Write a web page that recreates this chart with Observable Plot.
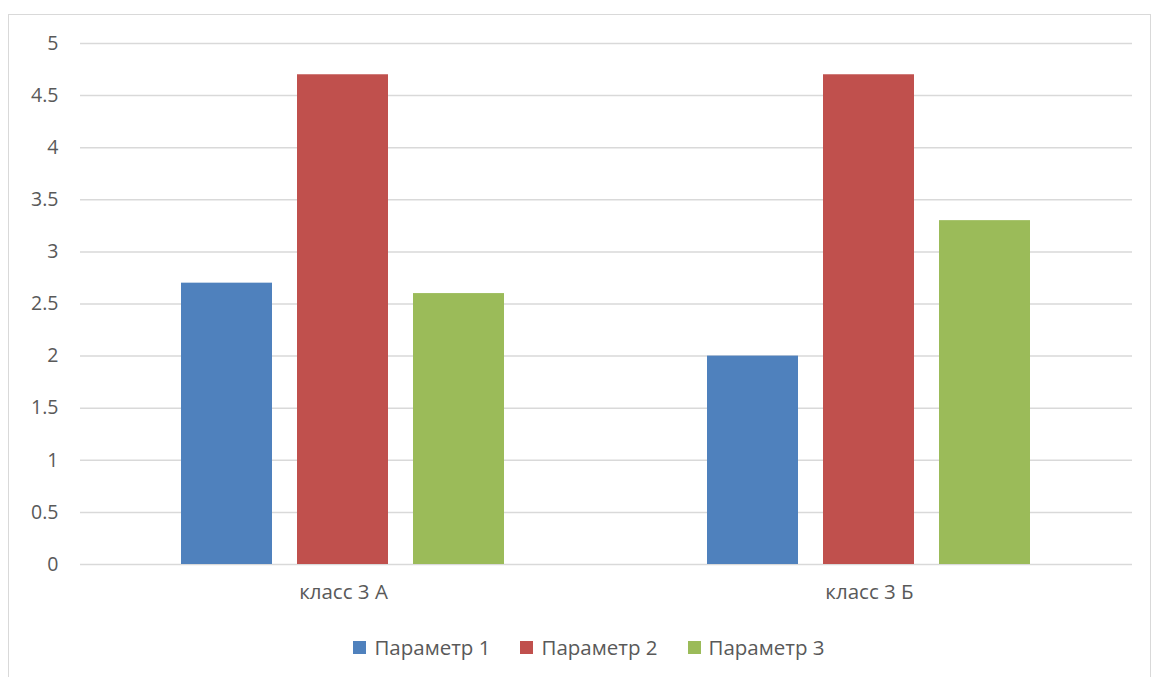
<!DOCTYPE html>
<html><head><meta charset="utf-8">
<script src="https://cdn.jsdelivr.net/npm/d3@7"></script>
<script src="https://cdn.jsdelivr.net/npm/@observablehq/plot@0.6"></script>
<style>
html,body{margin:0;padding:0;background:#fff;}
body{width:1151px;height:677px;position:relative;overflow:hidden;font-family:"Open Sans",sans-serif;}
#frame{position:absolute;left:8px;top:14px;width:1143px;height:670px;border:1.5px solid #d9d9d9;box-sizing:border-box;}
#chart{position:absolute;left:0;top:0;}
#legend{position:absolute;left:0;top:633px;width:1178px;display:flex;justify-content:center;align-items:center;font-size:20.5px;color:#595959;}
.item{display:flex;align-items:center;margin:0 15px;}
.sw{width:13px;height:13px;margin-right:8px;}
</style>
</head><body>
<div id="frame"></div>
<div id="chart"></div>
<div id="legend"></div>
<script>
const categories = ["класс 3 А", "класс 3 Б"];
const series = ["Параметр 1", "Параметр 2", "Параметр 3"];
const param1 = [2.7, 2.0];
const param2 = [4.7, 4.7];
const param3 = [2.6, 3.3];
const colors = ["#4f81bd", "#c0504d", "#9bbb59"];
const yTicks = [0, 0.5, 1, 1.5, 2, 2.5, 3, 3.5, 4, 4.5, 5];
const yTickLabels = ["0", "0.5", "1", "1.5", "2", "2.5", "3", "3.5", "4", "4.5", "5"];

const seriesValues = [param1, param2, param3];
const data = categories.flatMap((c, i) => seriesValues.map((arr, j) => ({category: c, series: series[j], value: arr[i]})));

const chart = Plot.plot({
  width: 1151,
  height: 610,
  marginLeft: 79,
  marginRight: 19,
  marginTop: 43,
  marginBottom: 46,
  style: {fontFamily: "'Open Sans', sans-serif", fontSize: "19px", color: "#595959", background: "transparent"},
  fx: {domain: categories, padding: 0, label: null},
  x: {domain: series, paddingInner: 0.2137, paddingOuter: 0.857, axis: null},
  y: {domain: [0, 5], label: null},
  color: {domain: series, range: colors},
  marks: [
    Plot.gridY(yTicks, {stroke: "#d9d9d9", strokeOpacity: 1, strokeWidth: 1.5}),
    Plot.barY(data, {fx: "category", x: "series", y: "value", fill: "series"}),
    Plot.axisY(yTicks, {tickSize: 0, tickPadding: 22, tickFormat: (d, i) => yTickLabels[i], label: null, fontSize: 19.5}),
    Plot.axisFx({anchor: "bottom", tickSize: 0, tickPadding: 20, label: null, fontSize: 20.5})
  ]
});
document.getElementById("chart").appendChild(chart);

const legend = document.getElementById("legend");
series.forEach((s, i) => {
  const item = document.createElement("div");
  item.className = "item";
  const sw = document.createElement("div");
  sw.className = "sw";
  sw.style.background = colors[i];
  const t = document.createElement("span");
  t.textContent = s;
  item.appendChild(sw);
  item.appendChild(t);
  legend.appendChild(item);
});
</script>
</body></html>
